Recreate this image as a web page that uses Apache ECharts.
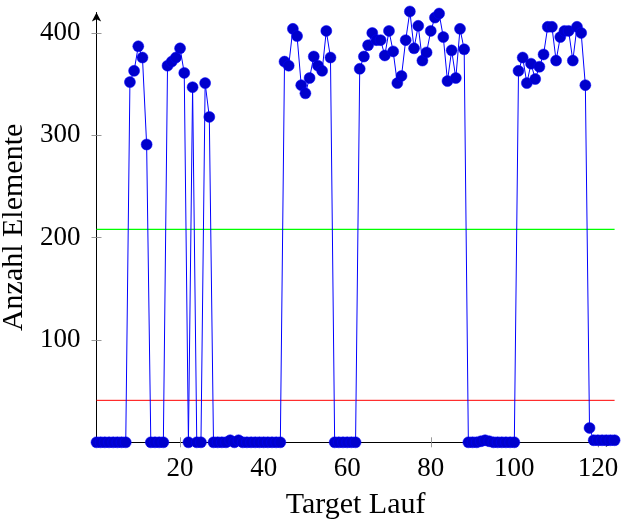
<!DOCTYPE html>
<html>
<head>
<meta charset="utf-8">
<script src="https://cdn.jsdelivr.net/npm/echarts@6/dist/echarts.min.js"></script>
<style>
    html, body { margin: 0; padding: 0; background: #fff; }
    #chart { width: 622px; height: 523px; }
</style>
</head>
<body>
<div id="chart"></div>
<script>
// Anzahl Elemente je Target Lauf (Lauf 0 .. 124)
const firstRun = 0
const elementCounts = [
    0, 0, 0, 0, 0, 0, 0, 0, 352, 363,
    387, 376, 291, 0, 0, 0, 0, 368, 372, 376,
    385, 361, 0, 347, 0, 0, 351, 318, 0, 0,
    0, 0, 2, 0, 2, 0, 0, 0, 0, 0,
    0, 0, 0, 0, 0, 372, 368, 404, 397, 349,
    341, 356, 377, 368, 363, 402, 376, 0, 0, 0,
    0, 0, 0, 365, 377, 388, 400, 393, 393, 378,
    402, 382, 351, 358, 393, 421, 385, 407, 373, 381,
    402, 415, 419, 396, 353, 383, 356, 404, 384, 0,
    0, 0, 1, 2, 1, 0, 0, 0, 0, 0,
    0, 363, 376, 351, 370, 355, 367, 379, 406, 406,
    373, 396, 402, 402, 373, 406, 400, 349, 14, 2,
    2, 2, 2, 2, 2,
]
const upperLine = 208
const lowerLine = 41
const xRange = [0, 124]
const yRange = [0, 420]
const xTicks = [20, 40, 60, 80, 100, 120]
const yTicks = [100, 200, 300, 400]

const seriesData = elementCounts.map((v, i) => [firstRun + i, v])

const font = "Liberation Serif"
const tickStyle = { color: "#999", width: 1 }

const grid = {
    left: 96.5,
    right: 7.4,
    top: 12.5,
    bottom: 80.7,
    outerBoundsMode: "none",
    containLabel: false,
}

// horizontal reference line across the whole x range
const refLine = (value, color, width) => ({
    type: "line",
    data: xRange.map((x) => [x, value]),
    symbol: "none",
    silent: true,
    z: 1,
    lineStyle: { color, width, type: "solid", opacity: 1 },
    emphasis: { disabled: true },
})

const option = {
    animation: false,
    textStyle: { fontFamily: font },
    grid,
    xAxis: [
        {
            type: "value",
            min: xRange[0],
            max: xRange[1],
            interval: 20,
            name: "Target Lauf",
            nameLocation: "middle",
            nameGap: 48,
            nameTextStyle: { fontFamily: font, fontSize: 30, color: "#000" },
            splitLine: { show: false },
            axisLine: {
                onZero: false,
                symbol: ["none", "arrow"],
                symbolSize: [7, 9],
                lineStyle: { color: "#000", width: 1 },
            },
            axisTick: { customValues: xTicks, length: 5, lineStyle: tickStyle },
            axisLabel: {
                customValues: xTicks,
                margin: 13,
                fontFamily: font,
                fontSize: 27,
                color: "#000",
            },
        },
        {
            type: "value",
            min: xRange[0],
            max: xRange[1],
            interval: 20,
            position: "bottom",
            splitLine: { show: false },
            axisLine: { show: false },
            axisLabel: { show: false },
            axisTick: {
                customValues: xTicks,
                inside: true,
                length: 5,
                lineStyle: tickStyle,
            },
        },
    ],
    yAxis: [
        {
            type: "value",
            min: yRange[0],
            max: yRange[1],
            interval: 100,
            name: "Anzahl Elemente",
            nameLocation: "middle",
            nameGap: 56,
            nameTextStyle: { fontFamily: font, fontSize: 30, color: "#000" },
            splitLine: { show: false },
            axisLine: {
                onZero: false,
                symbol: ["none", "arrow"],
                symbolSize: [7, 9],
                lineStyle: { color: "#000", width: 1 },
            },
            axisTick: { customValues: yTicks, length: 5, lineStyle: tickStyle },
            axisLabel: {
                customValues: yTicks,
                margin: 16,
                fontFamily: font,
                fontSize: 27,
                color: "#000",
            },
        },
        {
            type: "value",
            min: yRange[0],
            max: yRange[1],
            interval: 100,
            position: "left",
            splitLine: { show: false },
            axisLine: { show: false },
            axisLabel: { show: false },
            axisTick: {
                customValues: yTicks,
                inside: true,
                length: 5,
                lineStyle: tickStyle,
            },
        },
    ],
    series: [
        refLine(upperLine, "#00ff00", 1.2),
        refLine(lowerLine, "#ff0000", 1),
        {
            type: "line",
            data: seriesData,
            clip: false,
            z: 3,
            symbol: "circle",
            symbolSize: 11,
            lineStyle: { color: "#0000ff", width: 1 },
            itemStyle: { color: "#0000cc", borderColor: "#0000ff", borderWidth: 0.5 },
            emphasis: { disabled: true },
        },
    ],
}

const chart = echarts.init(document.getElementById("chart"), null, { renderer: "canvas" })
chart.setOption(option)
</script>
</body>
</html>
